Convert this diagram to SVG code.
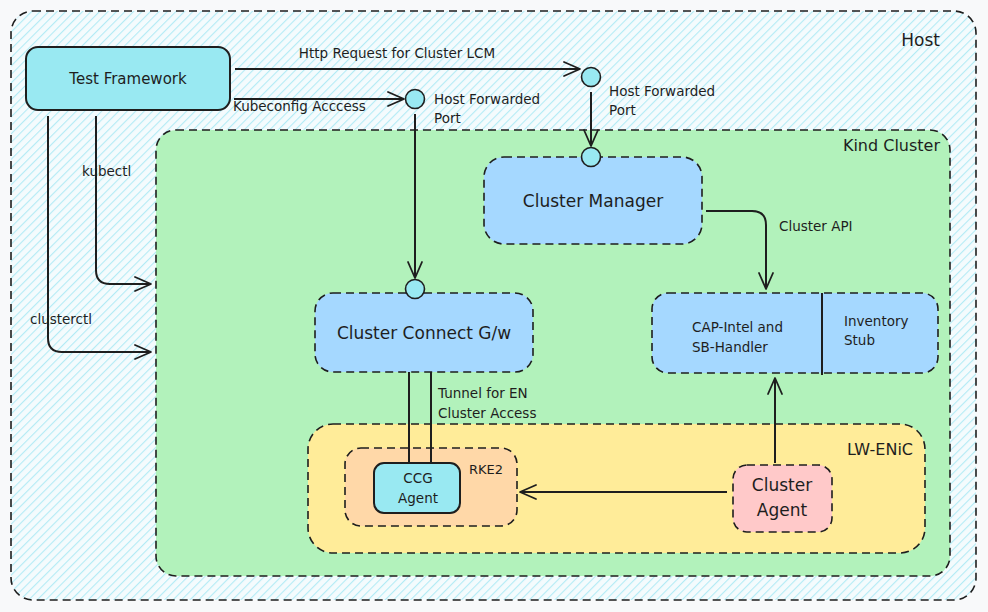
<svg xmlns="http://www.w3.org/2000/svg" width="988" height="612" viewBox="0 0 988 612">
<defs>
<pattern id="hatch" width="6" height="6" patternUnits="userSpaceOnUse" patternTransform="rotate(45)">
<rect width="6" height="6" fill="#f4fbfd"/>
<line x1="0" y1="0" x2="0" y2="6" stroke="#b3ebf5" stroke-width="2.2"/>
</pattern>
<marker id="arr" viewBox="0 0 20 20" refX="18" refY="10" markerWidth="20" markerHeight="20" markerUnits="userSpaceOnUse" orient="auto">
<path d="M2,3 L18,10 L2,17" fill="none" stroke="#1e1e1e" stroke-width="1.8" stroke-linecap="round" stroke-linejoin="round"/>
</marker>
</defs>
<style>
text{font-family:"DejaVu Sans","Liberation Sans",sans-serif;fill:#1e1e1e}
.dash{stroke:#1e1e1e;stroke-width:1.6;stroke-dasharray:8 5}
.solid{stroke:#1e1e1e;stroke-width:2}
.conn{fill:none;stroke:#1e1e1e;stroke-width:2}
.port{fill:#99e9f2;stroke:#1e1e1e;stroke-width:1.6}
.lbl{font-size:13.5px}
.big{font-size:17px}
</style>
<rect width="988" height="612" fill="#f8f9fa"/>
<g id="host">
<rect x="11" y="11" width="965" height="589" rx="22" fill="url(#hatch)" class="dash"/>
<text x="940" y="46" text-anchor="end" class="big">Host</text>
</g>
<g id="kind-cluster">
<rect x="156" y="130" width="794" height="446" rx="20" fill="#b2f2bb" class="dash"/>
<text x="940" y="151" text-anchor="end" style="font-size:16px">Kind Cluster</text>
</g>
<g id="test-framework">
<rect x="26" y="47" width="204" height="63" rx="12" fill="#99e9f2" class="solid"/>
<text x="128" y="84" text-anchor="middle" style="font-size:15px">Test Framework</text>
</g>
<g id="cluster-manager">
<rect x="484" y="157" width="218" height="87" rx="20" fill="#a5d8ff" class="dash"/>
<text x="593" y="207" text-anchor="middle" class="big">Cluster Manager</text>
</g>
<g id="cluster-connect">
<rect x="315" y="293" width="218" height="79" rx="18" fill="#a5d8ff" class="dash"/>
<text x="424" y="339" text-anchor="middle" class="big">Cluster Connect G/w</text>
</g>
<g id="cap-intel">
<rect x="652" y="293" width="286" height="80" rx="16" fill="#a5d8ff" class="dash"/>
<line x1="822" y1="293" x2="822" y2="375" class="solid"/>
<text x="692" y="332" class="lbl">CAP-Intel and</text>
<text x="692" y="352" class="lbl">SB-Handler</text>
<text x="844" y="326" class="lbl">Inventory</text>
<text x="844" y="345" class="lbl">Stub</text>
</g>
<g id="lw-enic">
<rect x="308" y="424" width="617" height="129" rx="25" fill="#ffec99" class="dash"/>
<text x="913" y="455" text-anchor="end" style="font-size:16px">LW-ENiC</text>
</g>
<g id="rke2">
<rect x="345" y="448" width="172" height="78" rx="16" fill="#ffd8a8" class="dash"/>
<text x="469" y="474" style="font-size:13px">RKE2</text>
</g>
<g id="ccg-agent">
<rect x="374" y="463" width="86" height="50" rx="10" fill="#99e9f2" class="solid"/>
<text x="418" y="483" text-anchor="middle" class="lbl">CCG</text>
<text x="418" y="503" text-anchor="middle" class="lbl">Agent</text>
</g>
<g id="cluster-agent">
<rect x="733" y="465" width="99" height="67" rx="14" fill="#ffc9c9" class="dash"/>
<text x="782" y="491" text-anchor="middle" class="big">Cluster</text>
<text x="782" y="516" text-anchor="middle" class="big">Agent</text>
</g>
<g id="ports">
<circle cx="591" cy="77" r="9.5" class="port"/>
<circle cx="415" cy="99" r="9.5" class="port"/>
<circle cx="591" cy="157" r="9.5" class="port"/>
<circle cx="415" cy="289" r="9.5" class="port"/>
</g>
<g id="connectors">
<path d="M235,69 L580,69" class="conn" marker-end="url(#arr)"/>
<text x="397" y="58" text-anchor="middle" class="lbl">Http Request for Cluster LCM</text>
<path d="M234,99 L404,99" class="conn" marker-end="url(#arr)"/>
<text x="233" y="111" class="lbl">Kubeconfig Acccess</text>
<text x="434" y="104" class="lbl">Host Forwarded</text>
<text x="434" y="123" class="lbl">Port</text>
<path d="M591,92 L591,146" class="conn" marker-end="url(#arr)"/>
<text x="609" y="96" class="lbl">Host Forwarded</text>
<text x="609" y="115" class="lbl">Port</text>
<path d="M415,114 L415,278" class="conn" marker-end="url(#arr)"/>
<path d="M706,211 L752,211 Q766,211 766,225 L766,289" class="conn" marker-end="url(#arr)"/>
<text x="779" y="231" class="lbl">Cluster API</text>
<path d="M96,116 L96,270 Q96,284 110,284 L151,284" class="conn" marker-end="url(#arr)"/>
<text x="82" y="176" class="lbl">kubectl</text>
<path d="M48,116 L48,338 Q48,352 62,352 L151,352" class="conn" marker-end="url(#arr)"/>
<text x="30" y="324" class="lbl">clusterctl</text>
<line x1="409" y1="372" x2="409" y2="463" class="conn"/>
<line x1="431" y1="372" x2="431" y2="463" class="conn"/>
<text x="438" y="398" class="lbl">Tunnel for EN</text>
<text x="438" y="418" class="lbl">Cluster Access</text>
<path d="M775,463 L775,378" class="conn" marker-end="url(#arr)"/>
<path d="M727,492 L520,492" class="conn" marker-end="url(#arr)"/>
</g>
</svg>
